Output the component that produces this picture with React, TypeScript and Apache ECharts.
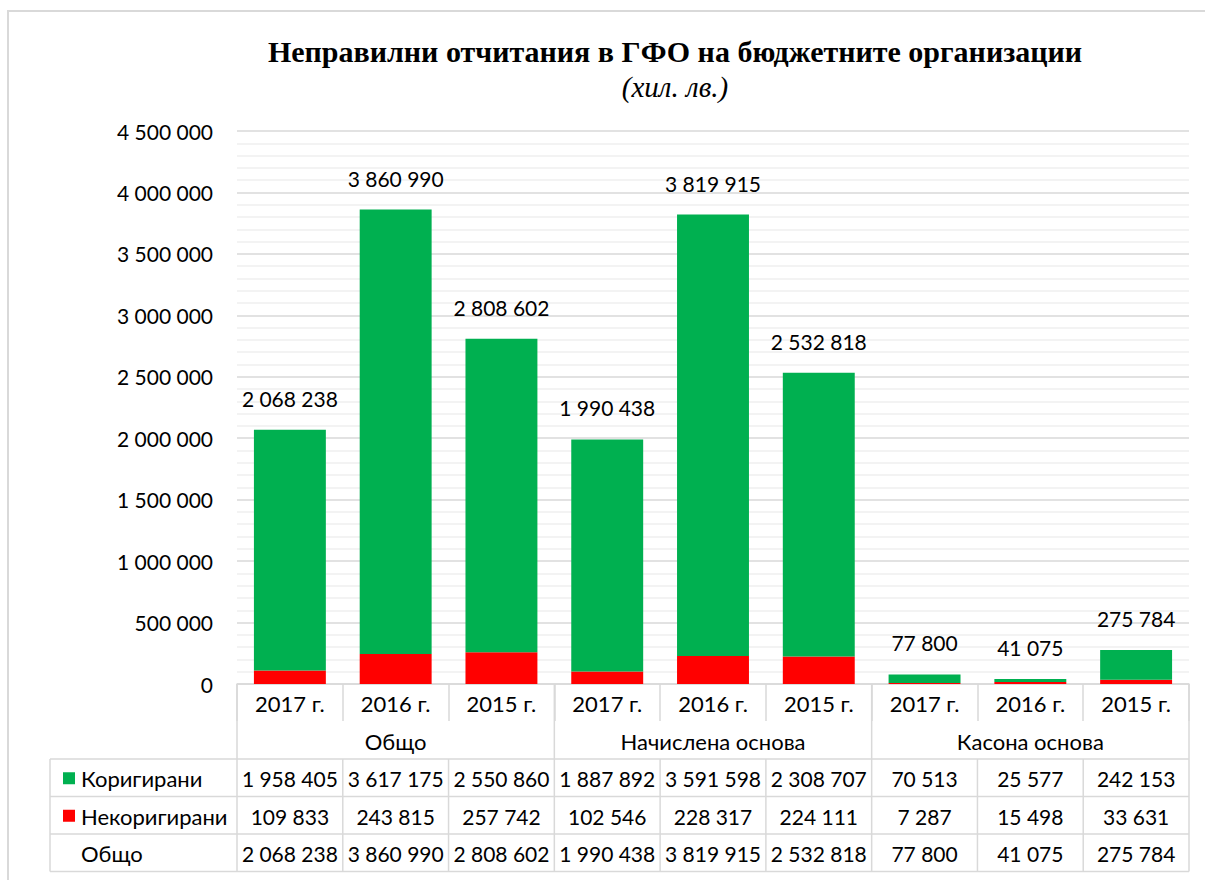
import React, { useEffect, useRef } from "react";
import * as echarts from "echarts";

const years = ["2017 г.", "2016 г.", "2015 г.", "2017 г.", "2016 г.", "2015 г.", "2017 г.", "2016 г.", "2015 г."];
const groups = ["Общо", "Начислена основа", "Касона основа"];
const seriesNames = ["Коригирани", "Некоригирани"];
const corrected = [1958405, 3617175, 2550860, 1887892, 3591598, 2308707, 70513, 25577, 242153];
const uncorrected = [109833, 243815, 257742, 102546, 228317, 224111, 7287, 15498, 33631];
const totals = [2068238, 3860990, 2808602, 1990438, 3819915, 2532818, 77800, 41075, 275784];
const totalRowLabel = "Общо";

const GREEN = "#00B050";
const RED = "#FF0000";
const LINE = "#d9d9d9";
const FONT = "Lato";

const fmt = (n: number) => String(n).replace(/\B(?=(\d{3})+(?!\d))/g, " ");

export default function App() {
  const ref = useRef<HTMLDivElement>(null);
  useEffect(() => {
    if (!ref.current) return;
    const chart = echarts.init(ref.current, null, { renderer: "svg" });
    const W = 1205;
    const gridLeft = 237;
    const gridRightX = 1189;
    const gridTop = 131;
    const baseY = 684;
    const band = (gridRightX - gridLeft) / years.length;
    const yearRowBottom = 721;
    const groupRowBottom = 759;
    const rowH = 37.5;
    const tableLeft = 50;

    const g: any[] = [];
    const line = (x1: number, y1: number, x2: number, y2: number) =>
      g.push({ type: "line", shape: { x1, y1, x2, y2 }, style: { stroke: LINE, lineWidth: 1.5 }, silent: true });

    // outer border
    g.push({ type: "rect", shape: { x: 8, y: 11, width: W, height: 880 }, style: { fill: "none", stroke: LINE, lineWidth: 2 }, silent: true });

    // group dividers through group row
    for (let k = 0; k <= groups.length; k++) {
      const x = gridLeft + k * 3 * band;
      line(x, baseY, x, groupRowBottom);
    }
    groups.forEach((name, k) => {
      g.push({
        type: "text",
        x: gridLeft + (k * 3 + 1.5) * band,
        y: (yearRowBottom + groupRowBottom) / 2 + 1,
        style: { text: name, fontFamily: FONT, fontSize: 22, fill: "#000", align: "center", verticalAlign: "middle" },
        silent: true,
      });
    });

    // data rows
    const rows = [
      { label: seriesNames[0], color: GREEN, values: corrected },
      { label: seriesNames[1], color: RED, values: uncorrected },
      { label: totalRowLabel, color: null as any, values: totals },
    ];
    for (let r = 0; r <= rows.length; r++) {
      line(tableLeft, groupRowBottom + r * rowH, gridRightX, groupRowBottom + r * rowH);
    }
    const tableBottom = groupRowBottom + rows.length * rowH;
    line(tableLeft, groupRowBottom, tableLeft, tableBottom);
    for (let c = 0; c <= years.length; c++) {
      const x = gridLeft + c * band;
      line(x, groupRowBottom, x, tableBottom);
    }
    rows.forEach((row, r) => {
      const cy = groupRowBottom + (r + 0.5) * rowH + 1;
      if (row.color) {
        g.push({ type: "rect", shape: { x: 63, y: cy - 6.5, width: 12, height: 12 }, style: { fill: row.color }, silent: true });
      }
      g.push({
        type: "text",
        x: 81,
        y: cy,
        style: { text: row.label, fontFamily: FONT, fontSize: 22, fill: "#000", align: "left", verticalAlign: "middle" },
        silent: true,
      });
      row.values.forEach((v, c) => {
        g.push({
          type: "text",
          x: gridLeft + (c + 0.5) * band,
          y: cy,
          style: { text: fmt(v), fontFamily: FONT, fontSize: 21, fill: "#000", align: "center", verticalAlign: "middle" },
          silent: true,
        });
      });
    });

    chart.setOption({
      animation: false,
      backgroundColor: "#fff",
      title: {
        text: "Неправилни отчитания в ГФО на бюджетните организации",
        subtext: "(хил. лв.)",
        left: 670,
        textAlign: "center",
        top: 31,
        itemGap: 6,
        textStyle: { fontFamily: "Liberation Serif", fontWeight: "bold", fontSize: 30, color: "#000" },
        subtextStyle: { fontFamily: "Liberation Serif", fontStyle: "italic", fontSize: 29, color: "#000" },
      },
      grid: { left: gridLeft, right: W - gridRightX, top: gridTop, bottom: 880 - baseY, containLabel: false },
      xAxis: {
        type: "category",
        data: years,
        axisLine: { show: true, lineStyle: { color: LINE, width: 1.5 } },
        axisTick: { show: true, length: yearRowBottom - baseY, interval: 0, lineStyle: { color: LINE, width: 1.5 } },
        axisLabel: { interval: 0, fontFamily: FONT, fontSize: 22, color: "#000", margin: 8 },
      },
      yAxis: {
        type: "value",
        min: 0,
        max: 4500000,
        interval: 500000,
        axisLine: { show: false },
        axisTick: { show: false },
        axisLabel: { formatter: (v: number) => fmt(v), fontFamily: FONT, fontSize: 21, color: "#000", margin: 24 },
        splitLine: { show: true, lineStyle: { color: LINE, width: 1.5 } },
        minorTick: { show: false, splitNumber: 5 },
        minorSplitLine: { show: true, lineStyle: { color: "#efefef", width: 1.5 } },
      },
      series: [
        {
          name: seriesNames[1],
          type: "bar",
          stack: "a",
          data: uncorrected,
          barWidth: "68%",
          itemStyle: { color: RED },
        },
        {
          name: seriesNames[0],
          type: "bar",
          stack: "a",
          data: corrected,
          barWidth: "68%",
          itemStyle: { color: GREEN },
          label: {
            show: true,
            position: "top",
            distance: 21,
            fontFamily: FONT,
            fontSize: 21,
            color: "#000",
            formatter: (p: any) => fmt(totals[p.dataIndex]),
          },
        },
      ],
      graphic: g,
    });
    return () => chart.dispose();
  }, []);
  return <div ref={ref} style={{ position: "fixed", left: 0, top: 0, width: 1205, height: 880 }} />;
}
